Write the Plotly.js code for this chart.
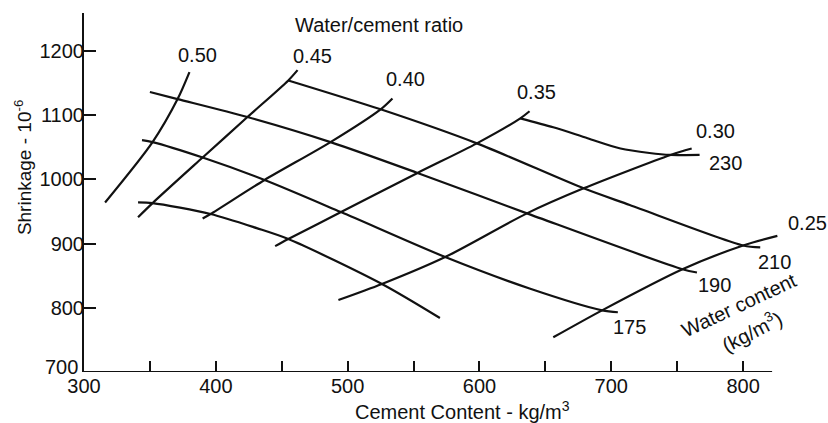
<!DOCTYPE html>
<html>
<head>
<meta charset="utf-8">
<script src="https://cdn.plot.ly/plotly-3.0.1.min.js"></script>
<style>
  html, body { margin: 0; padding: 0; background: #fff; }
  #chart { width: 828px; height: 423px; }
</style>
</head>
<body>
<div id="chart"></div>
<script>
// Lines of constant water/cement ratio: cement content (kg/m3) vs shrinkage (10^-6)
const wc050Cement = [316, 352, 371, 380];
const wc050Shrink = [964, 1058, 1125, 1167];
const wc045Cement = [341, 352, 390, 424, 455, 462];
const wc045Shrink = [941, 963, 1034, 1097, 1154, 1170];
const wc040Cement = [390, 396, 437, 487, 525, 534];
const wc040Shrink = [939, 946, 999, 1058, 1109, 1126];
const wc035Cement = [445, 455, 495, 553, 598, 631, 638];
const wc035Shrink = [896, 907, 949, 1010, 1056, 1095, 1106];
const wc030Cement = [493, 526, 574, 636, 679, 745, 761];
const wc030Shrink = [812, 837, 879, 947, 986, 1038, 1048];
const wc025Cement = [656, 693, 754, 800, 826];
const wc025Shrink = [754, 796, 860, 897, 912];

// Lines of constant water content (kg/m3)
const w160Cement = [341, 352, 396, 431, 455, 526, 570];
const w160Shrink = [964, 963, 946, 924, 907, 837, 784];
const w175Cement = [344, 352, 390, 437, 495, 574, 638, 693, 705];
const w175Shrink = [1061, 1058, 1034, 999, 949, 879, 830, 796, 793];
const w190Cement = [350, 371, 424, 487, 553, 636, 754, 765];
const w190Shrink = [1136, 1125, 1097, 1058, 1010, 947, 860, 855];
const w210Cement = [455, 525, 598, 679, 714, 800, 813];
const w210Shrink = [1154, 1109, 1056, 986, 960, 897, 894];
const w230Cement = [631, 656, 682, 707, 729, 745, 767];
const w230Shrink = [1095, 1081, 1064, 1048, 1041, 1038, 1038];

// Curve labels
const wcLabels = ['0.50', '0.45', '0.40', '0.35', '0.30', '0.25'];
const waterLabels = ['230', '210', '190', '175'];

// Axis ticks (700 is written separately, raised off the corner)
const xTickVals = [300, 400, 500, 600, 700, 800];
const xMinorVals = [350, 450, 550, 650, 750];
const yTickVals = [800, 900, 1000, 1100, 1200];
const yBaseLabel = '700';

const INK = '#111111';
const FONT = 'Liberation Sans, Arial, Helvetica, sans-serif';

const curves = [
  [wc050Cement, wc050Shrink], [wc045Cement, wc045Shrink], [wc040Cement, wc040Shrink],
  [wc035Cement, wc035Shrink], [wc030Cement, wc030Shrink], [wc025Cement, wc025Shrink],
  [w160Cement, w160Shrink], [w175Cement, w175Shrink], [w190Cement, w190Shrink],
  [w210Cement, w210Shrink], [w230Cement, w230Shrink]
];

const traces = curves.map(([x, y]) => ({
  type: 'scatter',
  mode: 'lines',
  x: x,
  y: y,
  line: { color: INK, width: 2.2, shape: 'spline', smoothing: 0.8 },
  hoverinfo: 'skip',
  showlegend: false
}));

function label(text, x, y, extra) {
  return Object.assign({
    text: text, x: x, y: y, xref: 'x', yref: 'y',
    showarrow: false, xanchor: 'center', yanchor: 'middle',
    font: { family: FONT, size: 20, color: INK }
  }, extra || {});
}

// Label placement for ratio lines (top ends) and water-content lines (right ends)
const wcLabelPos = [[386, 1193], [473, 1192], [544, 1157], [643, 1136], [779, 1076], [849, 932]];
const waterLabelPos = [[787, 1025], [824, 872], [778, 835], [714, 770]];

const annotations = [];
wcLabels.forEach((t, i) => annotations.push(label(t, wcLabelPos[i][0], wcLabelPos[i][1])));
waterLabels.forEach((t, i) => annotations.push(label(t, waterLabelPos[i][0], waterLabelPos[i][1])));
annotations.push(label('Water/cement ratio', 524, 1241));
annotations.push(label('Water content', 797, 804, { textangle: -25 }));
annotations.push(label('(kg/m<sup>3</sup>)', 806, 765, { textangle: -27 }));
annotations.push(label('Cement Content - kg/m<sup>3</sup>', 0.5214, -0.108, { xref: 'paper', yref: 'paper' }));
annotations.push(label('Shrinkage - 10<sup>-6</sup>', -0.0841, 0.568,
  { xref: 'paper', yref: 'paper', textangle: -90, font: { family: FONT, size: 19, color: INK } }));
annotations.push(label(yBaseLabel, -0.0055, 0.014, { xref: 'paper', yref: 'paper', xanchor: 'right' }));

const layout = {
  width: 828,
  height: 423,
  margin: { l: 84, r: 19, t: 13, b: 51 },
  paper_bgcolor: '#ffffff',
  plot_bgcolor: '#ffffff',
  showlegend: false,
  xaxis: {
    range: [300, 850],
    showgrid: false,
    zeroline: false,
    showline: false,
    tickmode: 'array',
    tickvals: xTickVals,
    ticks: 'inside',
    ticklen: 11,
    tickwidth: 2,
    tickcolor: INK,
    tickfont: { family: FONT, size: 20, color: INK },
    minor: { tickmode: 'array', tickvals: xMinorVals, ticks: 'inside', ticklen: 11, tickwidth: 2, tickcolor: INK, showgrid: false },
    fixedrange: true
  },
  yaxis: {
    range: [700, 1259],
    showgrid: false,
    zeroline: false,
    showline: true,
    linecolor: INK,
    linewidth: 2,
    tickmode: 'array',
    tickvals: yTickVals,
    ticks: 'inside',
    ticklen: 12,
    tickwidth: 2,
    tickcolor: INK,
    ticklabelstandoff: -6,
    tickfont: { family: FONT, size: 20, color: INK },
    fixedrange: true
  },
  shapes: [
    // x axis baseline stops short of the plotting area's right edge
    { type: 'line', xref: 'x', yref: 'y', x0: 300, x1: 822, y0: 700, y1: 700,
      line: { color: INK, width: 2 } }
  ],
  annotations: annotations
};

Plotly.newPlot('chart', traces, layout, { staticPlot: true, displayModeBar: false });
</script>
</body>
</html>
